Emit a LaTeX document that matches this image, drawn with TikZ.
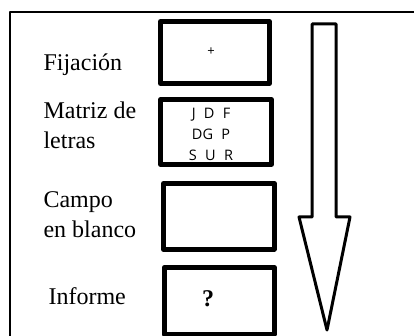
\documentclass[tikz,border=0pt]{standalone}
\usepackage{fontspec}
\setmainfont{Liberation Serif}
\newfontfamily\letrasfont[WordSpace=2.2]{Open Sans}
\usepackage{tkz-euclide}

\tikzset{
  etiqueta/.style={anchor=base west,align=left,font=\fontsize{24}{30}\selectfont},
  letras/.style={align=center,font=\letrasfont\fontsize{14.5}{21}\selectfont}
}

\begin{document}
\begin{tikzpicture}[x=1pt,y=-1pt]
  \useasboundingbox (0,0) rectangle (414,336);
  \tkzSetUpLine[line width=1.5pt]
  \tkzDefPoints{10/12/M,420/12/N,10/345/O}
  \tkzDrawSegments(N,M M,O)
  % cajas
  \tkzSetUpLine[line width=5pt]
  \tkzDefPoints{160.5/21.5/A1,269.2/21.5/B1,269.2/83.5/C1,160.5/83.5/D1}
  \tkzDefPoints{160.5/99.8/A2,271.5/99.8/B2,271.5/164.2/C2,160.5/164.2/D2}
  \tkzDefPoints{163.5/183.5/A3,274.2/183.5/B3,274.2/249.2/C3,163.5/249.2/D3}
  \tkzDefPoints{164.2/267.5/A4,274.2/267.5/B4,274.2/334/C4,164.2/334/D4}
  \tkzDrawPolygon(A1,B1,C1,D1)
  \tkzDrawPolygon(A2,B2,C2,D2)
  \tkzDrawPolygon(A3,B3,C3,D3)
  \tkzDrawPolygon(A4,B4,C4,D4)
  % flecha
  \tkzDefPoints{312/24/P,336/24/Q,336/217/R,350/217/S,327/330/T,299/217/U,312/217/V}
  \tkzDrawPolygon[line width=3pt](P,Q,R,S,T,U,V)
  % textos
  \node[etiqueta] (fija) at (40,71) {Fijación};
  \node[etiqueta] (matriz) at (40,149) {Matriz de\\letras};
  \node[etiqueta] (campo) at (40,237) {Campo\\en blanco};
  \node[etiqueta] (informe) at (45,304) {Informe};
  \node[font=\letrasfont\fontsize{13}{15}\selectfont] (cruz) at (211,52) {+};
  \node[letras] (mat) at (211,134) {J D F\\DG P\\S U R};
  \node[font=\fontsize{24}{30}\selectfont\bfseries] (preg) at (208,299) {?};
\end{tikzpicture}
\end{document}
